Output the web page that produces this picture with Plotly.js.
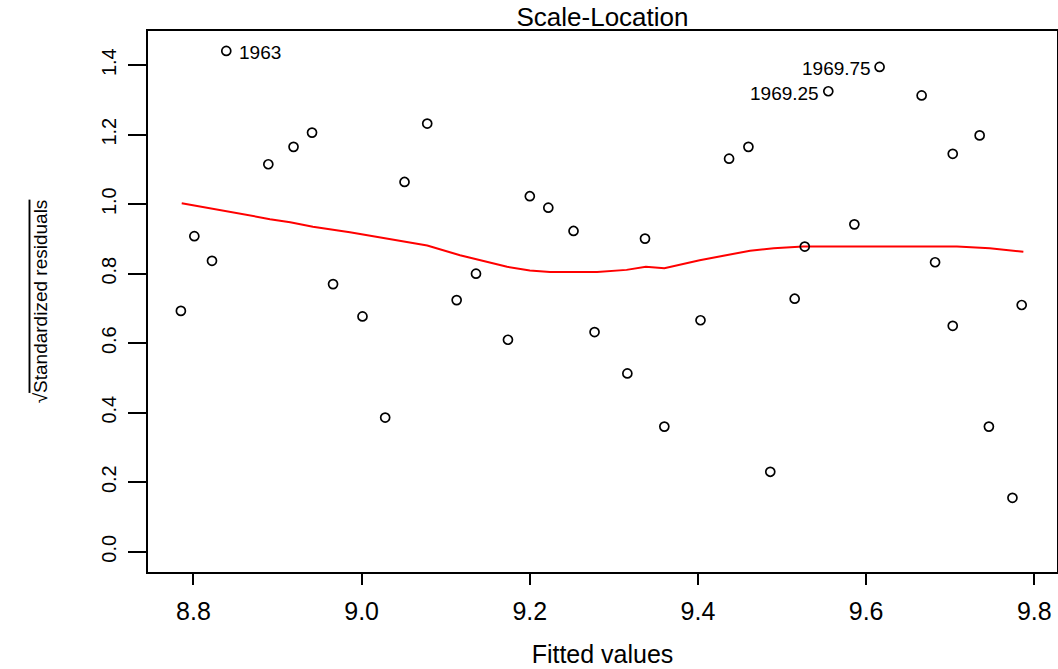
<!DOCTYPE html>
<html>
<head>
<meta charset="utf-8">
<script src="https://cdn.plot.ly/plotly-3.0.1.min.js"></script>
<style>
  html, body { margin: 0; padding: 0; background: #ffffff; }
  #chart { width: 1058px; height: 669px; }
</style>
</head>
<body>
<div id="chart"></div>
<script>
// ---- data ----
const fittedValues = [
  8.785, 8.801, 8.822, 8.839, 8.889, 8.919, 8.941, 8.966, 9.001, 9.028,
  9.051, 9.078, 9.113, 9.136, 9.174, 9.200, 9.222, 9.252, 9.277, 9.316,
  9.337, 9.360, 9.403, 9.437, 9.460, 9.486, 9.515, 9.527, 9.555, 9.586,
  9.616, 9.666, 9.682, 9.703, 9.703, 9.735, 9.746, 9.774, 9.785
];
const sqrtStdResiduals = [
  0.693, 0.908, 0.837, 1.441, 1.115, 1.165, 1.206, 0.770, 0.677, 0.386,
  1.064, 1.232, 0.724, 0.800, 0.610, 1.023, 0.990, 0.923, 0.632, 0.513,
  0.901, 0.360, 0.666, 1.131, 1.165, 0.230, 0.728, 0.878, 1.325, 0.942,
  1.395, 1.313, 0.833, 1.145, 0.650, 1.198, 0.360, 0.155, 0.710
];
const smoothX = [
  8.786, 8.851, 8.891, 8.915, 8.942, 8.986, 9.050, 9.078, 9.117, 9.173,
  9.200, 9.224, 9.280, 9.315, 9.338, 9.360, 9.402, 9.438, 9.462, 9.490,
  9.525, 9.708, 9.747, 9.787
];
const smoothY = [
  1.003, 0.974, 0.957, 0.948, 0.935, 0.919, 0.892, 0.881, 0.853, 0.820,
  0.809, 0.805, 0.805, 0.811, 0.820, 0.816, 0.839, 0.856, 0.866, 0.873,
  0.878, 0.878, 0.873, 0.863
];
const labelIndex = [3, 28, 30];
const pointLabels = ["1963", "1969.25", "1969.75"];
const labelSide = ["right", "left", "left"];
const xTickVals = [8.8, 9.0, 9.2, 9.4, 9.6, 9.8];
const xTickText = ["8.8", "9.0", "9.2", "9.4", "9.6", "9.8"];
const yTickVals = [0.0, 0.2, 0.4, 0.6, 0.8, 1.0, 1.2, 1.4];
const yTickText = ["0.0", "0.2", "0.4", "0.6", "0.8", "1.0", "1.2", "1.4"];
const chartTitle = "Scale-Location";
const xTitle = "Fitted values";
const yTitle = "\u221A<span style=\"text-decoration:overline\">Standardized residuals</span>";

// ---- chart ----
const FONT = "Liberation Sans, Arial, Helvetica, sans-serif";

const points = {
  x: fittedValues,
  y: sqrtStdResiduals,
  type: "scatter",
  mode: "markers",
  marker: { symbol: "circle-open", size: 9, color: "#000000", line: { width: 1.7, color: "#000000" } },
  hoverinfo: "x+y",
  showlegend: false
};
const smooth = {
  x: smoothX,
  y: smoothY,
  type: "scatter",
  mode: "lines",
  line: { color: "#ff0000", width: 2 },
  hoverinfo: "skip",
  showlegend: false
};

const annotations = labelIndex.map((idx, k) => ({
  x: fittedValues[idx],
  y: sqrtStdResiduals[idx],
  xref: "x", yref: "y",
  text: pointLabels[k],
  showarrow: false,
  xanchor: labelSide[k] === "right" ? "left" : "right",
  yanchor: "middle",
  xshift: labelSide[k] === "right" ? 11 : -7,
  yshift: -2,
  font: { family: FONT, size: 19, color: "#000000" }
}));

const axisCommon = {
  showgrid: false,
  zeroline: false,
  showline: true,
  mirror: true,
  linecolor: "#000000",
  linewidth: 1.6,
  ticks: "outside",
  tickcolor: "#000000",
  tickwidth: 1.6,
  automargin: false,
  tickmode: "array"
};

const layout = {
  width: 1058,
  height: 669,
  paper_bgcolor: "#ffffff",
  plot_bgcolor: "#ffffff",
  margin: { l: 148, r: 1, t: 31, b: 97, pad: 0 },
  title: {
    text: chartTitle,
    font: { family: FONT, size: 26, color: "#000000" },
    x: 0.5, xref: "paper", xanchor: "center",
    y: 1 - 17 / 669, yref: "container", yanchor: "middle"
  },
  xaxis: Object.assign({}, axisCommon, {
    range: [8.7459, 9.827],
    tickvals: xTickVals,
    ticktext: xTickText,
    ticklen: 11,
    ticklabelstandoff: 5,
    tickfont: { family: FONT, size: 25, color: "#000000" },
    title: { text: xTitle, font: { family: FONT, size: 25, color: "#000000" }, standoff: 22 }
  }),
  yaxis: Object.assign({}, axisCommon, {
    range: [-0.0584, 1.4984],
    tickvals: yTickVals,
    ticktext: yTickText,
    ticklen: 18,
    tickangle: -90,
    ticklabelstandoff: 4,
    tickfont: { family: FONT, size: 20, color: "#000000" },
    title: { text: yTitle, font: { family: FONT, size: 19, color: "#000000" }, standoff: 46 }
  }),
  annotations: annotations,
  showlegend: false
};

Plotly.newPlot("chart", [smooth, points], layout, { displayModeBar: false, staticPlot: false });
</script>
</body>
</html>
